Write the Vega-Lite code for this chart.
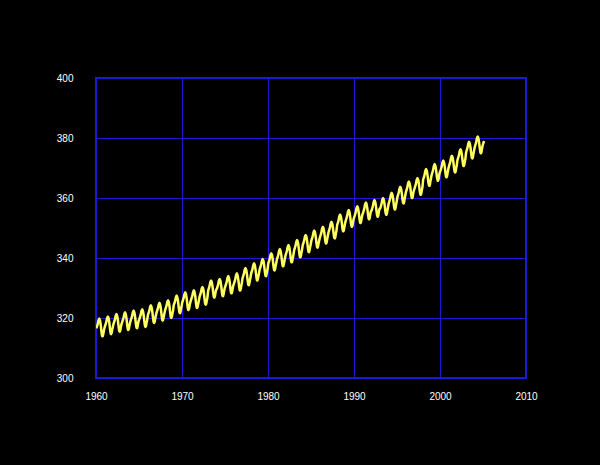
{
  "$schema": "https://vega.github.io/schema/vega-lite/v6.json",
  "width": 430,
  "height": 300,
  "autosize": "none",
  "padding": {"left": 96, "top": 78, "right": 74, "bottom": 87},
  "background": "#000000",
  "config": {
    "view": {"stroke": "#1a1ad8", "strokeWidth": 2},
    "axis": {
      "grid": true,
      "gridColor": "#1a1ad8",
      "gridWidth": 1,
      "gridOpacity": 1,
      "domain": false,
      "ticks": false,
      "labelColor": "#ffffff",
      "labelFont": "Liberation Sans",
      "labelFontSize": 10,
      "title": null
    }
  },
  "data": {"values": [
{"t":1960.042,"v":316.54},{"t":1960.125,"v":317.26},{"t":1960.208,"v":318.08},{"t":1960.292,"v":319.24},{"t":1960.375,"v":319.81},{"t":1960.458,"v":319.23},{"t":1960.542,"v":317.79},{"t":1960.625,"v":315.76},{"t":1960.708,"v":314.03},{"t":1960.792,"v":313.89},{"t":1960.875,"v":315.16},{"t":1960.958,"v":316.33},
{"t":1961.042,"v":317.27},{"t":1961.125,"v":317.99},{"t":1961.208,"v":318.81},{"t":1961.292,"v":319.97},{"t":1961.375,"v":320.54},{"t":1961.458,"v":319.96},{"t":1961.542,"v":318.52},{"t":1961.625,"v":316.49},{"t":1961.708,"v":314.76},{"t":1961.792,"v":314.62},{"t":1961.875,"v":315.89},{"t":1961.958,"v":317.06},
{"t":1962.042,"v":318.08},{"t":1962.125,"v":318.80},{"t":1962.208,"v":319.62},{"t":1962.292,"v":320.78},{"t":1962.375,"v":321.35},{"t":1962.458,"v":320.77},{"t":1962.542,"v":319.33},{"t":1962.625,"v":317.30},{"t":1962.708,"v":315.57},{"t":1962.792,"v":315.43},{"t":1962.875,"v":316.70},{"t":1962.958,"v":317.87},
{"t":1963.042,"v":318.62},{"t":1963.125,"v":319.34},{"t":1963.208,"v":320.16},{"t":1963.292,"v":321.32},{"t":1963.375,"v":321.89},{"t":1963.458,"v":321.31},{"t":1963.542,"v":319.87},{"t":1963.625,"v":317.84},{"t":1963.708,"v":316.11},{"t":1963.792,"v":315.97},{"t":1963.875,"v":317.24},{"t":1963.958,"v":318.41},
{"t":1964.042,"v":319.25},{"t":1964.125,"v":319.97},{"t":1964.208,"v":320.79},{"t":1964.292,"v":321.95},{"t":1964.375,"v":322.52},{"t":1964.458,"v":321.94},{"t":1964.542,"v":320.50},{"t":1964.625,"v":318.47},{"t":1964.708,"v":316.74},{"t":1964.792,"v":316.60},{"t":1964.875,"v":317.87},{"t":1964.958,"v":319.04},
{"t":1965.042,"v":319.67},{"t":1965.125,"v":320.39},{"t":1965.208,"v":321.21},{"t":1965.292,"v":322.37},{"t":1965.375,"v":322.94},{"t":1965.458,"v":322.36},{"t":1965.542,"v":320.92},{"t":1965.625,"v":318.89},{"t":1965.708,"v":317.16},{"t":1965.792,"v":317.02},{"t":1965.875,"v":318.29},{"t":1965.958,"v":319.46},
{"t":1966.042,"v":321.00},{"t":1966.125,"v":321.72},{"t":1966.208,"v":322.54},{"t":1966.292,"v":323.70},{"t":1966.375,"v":324.27},{"t":1966.458,"v":323.69},{"t":1966.542,"v":322.25},{"t":1966.625,"v":320.22},{"t":1966.708,"v":318.49},{"t":1966.792,"v":318.35},{"t":1966.875,"v":319.62},{"t":1966.958,"v":320.79},
{"t":1967.042,"v":321.81},{"t":1967.125,"v":322.53},{"t":1967.208,"v":323.35},{"t":1967.292,"v":324.51},{"t":1967.375,"v":325.08},{"t":1967.458,"v":324.50},{"t":1967.542,"v":323.06},{"t":1967.625,"v":321.03},{"t":1967.708,"v":319.30},{"t":1967.792,"v":319.16},{"t":1967.875,"v":320.43},{"t":1967.958,"v":321.60},
{"t":1968.042,"v":322.68},{"t":1968.125,"v":323.40},{"t":1968.208,"v":324.22},{"t":1968.292,"v":325.38},{"t":1968.375,"v":325.95},{"t":1968.458,"v":325.37},{"t":1968.542,"v":323.93},{"t":1968.625,"v":321.90},{"t":1968.708,"v":320.17},{"t":1968.792,"v":320.03},{"t":1968.875,"v":321.30},{"t":1968.958,"v":322.47},
{"t":1969.042,"v":324.25},{"t":1969.125,"v":324.97},{"t":1969.208,"v":325.79},{"t":1969.292,"v":326.95},{"t":1969.375,"v":327.52},{"t":1969.458,"v":326.94},{"t":1969.542,"v":325.50},{"t":1969.625,"v":323.47},{"t":1969.708,"v":321.74},{"t":1969.792,"v":321.60},{"t":1969.875,"v":322.87},{"t":1969.958,"v":324.04},
{"t":1970.042,"v":325.31},{"t":1970.125,"v":326.03},{"t":1970.208,"v":326.85},{"t":1970.292,"v":328.01},{"t":1970.375,"v":328.58},{"t":1970.458,"v":328.00},{"t":1970.542,"v":326.56},{"t":1970.625,"v":324.53},{"t":1970.708,"v":322.80},{"t":1970.792,"v":322.66},{"t":1970.875,"v":323.93},{"t":1970.958,"v":325.10},
{"t":1971.042,"v":325.95},{"t":1971.125,"v":326.67},{"t":1971.208,"v":327.49},{"t":1971.292,"v":328.65},{"t":1971.375,"v":329.22},{"t":1971.458,"v":328.64},{"t":1971.542,"v":327.20},{"t":1971.625,"v":325.17},{"t":1971.708,"v":323.44},{"t":1971.792,"v":323.30},{"t":1971.875,"v":324.57},{"t":1971.958,"v":325.74},
{"t":1972.042,"v":327.09},{"t":1972.125,"v":327.81},{"t":1972.208,"v":328.63},{"t":1972.292,"v":329.79},{"t":1972.375,"v":330.36},{"t":1972.458,"v":329.78},{"t":1972.542,"v":328.34},{"t":1972.625,"v":326.31},{"t":1972.708,"v":324.58},{"t":1972.792,"v":324.44},{"t":1972.875,"v":325.71},{"t":1972.958,"v":326.88},
{"t":1973.042,"v":329.13},{"t":1973.125,"v":329.88},{"t":1973.208,"v":330.73},{"t":1973.292,"v":331.93},{"t":1973.375,"v":332.53},{"t":1973.458,"v":331.98},{"t":1973.542,"v":330.58},{"t":1973.625,"v":328.58},{"t":1973.708,"v":326.88},{"t":1973.792,"v":326.78},{"t":1973.875,"v":328.08},{"t":1973.958,"v":329.28},
{"t":1974.042,"v":329.64},{"t":1974.125,"v":330.39},{"t":1974.208,"v":331.24},{"t":1974.292,"v":332.44},{"t":1974.375,"v":333.04},{"t":1974.458,"v":332.49},{"t":1974.542,"v":331.09},{"t":1974.625,"v":329.09},{"t":1974.708,"v":327.39},{"t":1974.792,"v":327.29},{"t":1974.875,"v":328.59},{"t":1974.958,"v":329.79},
{"t":1975.042,"v":330.58},{"t":1975.125,"v":331.33},{"t":1975.208,"v":332.18},{"t":1975.292,"v":333.38},{"t":1975.375,"v":333.98},{"t":1975.458,"v":333.43},{"t":1975.542,"v":332.03},{"t":1975.625,"v":330.03},{"t":1975.708,"v":328.33},{"t":1975.792,"v":328.23},{"t":1975.875,"v":329.53},{"t":1975.958,"v":330.73},
{"t":1976.042,"v":331.48},{"t":1976.125,"v":332.23},{"t":1976.208,"v":333.08},{"t":1976.292,"v":334.28},{"t":1976.375,"v":334.88},{"t":1976.458,"v":334.33},{"t":1976.542,"v":332.93},{"t":1976.625,"v":330.93},{"t":1976.708,"v":329.23},{"t":1976.792,"v":329.13},{"t":1976.875,"v":330.43},{"t":1976.958,"v":331.63},
{"t":1977.042,"v":333.29},{"t":1977.125,"v":334.04},{"t":1977.208,"v":334.89},{"t":1977.292,"v":336.09},{"t":1977.375,"v":336.69},{"t":1977.458,"v":336.14},{"t":1977.542,"v":334.74},{"t":1977.625,"v":332.74},{"t":1977.708,"v":331.04},{"t":1977.792,"v":330.94},{"t":1977.875,"v":332.24},{"t":1977.958,"v":333.44},
{"t":1978.042,"v":334.86},{"t":1978.125,"v":335.61},{"t":1978.208,"v":336.46},{"t":1978.292,"v":337.66},{"t":1978.375,"v":338.26},{"t":1978.458,"v":337.71},{"t":1978.542,"v":336.31},{"t":1978.625,"v":334.31},{"t":1978.708,"v":332.61},{"t":1978.792,"v":332.51},{"t":1978.875,"v":333.81},{"t":1978.958,"v":335.01},
{"t":1979.042,"v":336.29},{"t":1979.125,"v":337.04},{"t":1979.208,"v":337.89},{"t":1979.292,"v":339.09},{"t":1979.375,"v":339.69},{"t":1979.458,"v":339.14},{"t":1979.542,"v":337.74},{"t":1979.625,"v":335.74},{"t":1979.708,"v":334.04},{"t":1979.792,"v":333.94},{"t":1979.875,"v":335.24},{"t":1979.958,"v":336.44},
{"t":1980.042,"v":338.21},{"t":1980.125,"v":338.96},{"t":1980.208,"v":339.81},{"t":1980.292,"v":341.01},{"t":1980.375,"v":341.61},{"t":1980.458,"v":341.06},{"t":1980.542,"v":339.66},{"t":1980.625,"v":337.66},{"t":1980.708,"v":335.96},{"t":1980.792,"v":335.86},{"t":1980.875,"v":337.16},{"t":1980.958,"v":338.36},
{"t":1981.042,"v":339.57},{"t":1981.125,"v":340.32},{"t":1981.208,"v":341.17},{"t":1981.292,"v":342.37},{"t":1981.375,"v":342.97},{"t":1981.458,"v":342.42},{"t":1981.542,"v":341.02},{"t":1981.625,"v":339.02},{"t":1981.708,"v":337.32},{"t":1981.792,"v":337.22},{"t":1981.875,"v":338.52},{"t":1981.958,"v":339.72},
{"t":1982.042,"v":340.93},{"t":1982.125,"v":341.68},{"t":1982.208,"v":342.53},{"t":1982.292,"v":343.73},{"t":1982.375,"v":344.33},{"t":1982.458,"v":343.78},{"t":1982.542,"v":342.38},{"t":1982.625,"v":340.38},{"t":1982.708,"v":338.68},{"t":1982.792,"v":338.58},{"t":1982.875,"v":339.88},{"t":1982.958,"v":341.08},
{"t":1983.042,"v":342.60},{"t":1983.125,"v":343.35},{"t":1983.208,"v":344.20},{"t":1983.292,"v":345.40},{"t":1983.375,"v":346.00},{"t":1983.458,"v":345.45},{"t":1983.542,"v":344.05},{"t":1983.625,"v":342.05},{"t":1983.708,"v":340.35},{"t":1983.792,"v":340.25},{"t":1983.875,"v":341.55},{"t":1983.958,"v":342.75},
{"t":1984.042,"v":344.30},{"t":1984.125,"v":345.05},{"t":1984.208,"v":345.90},{"t":1984.292,"v":347.10},{"t":1984.375,"v":347.70},{"t":1984.458,"v":347.15},{"t":1984.542,"v":345.75},{"t":1984.625,"v":343.75},{"t":1984.708,"v":342.05},{"t":1984.792,"v":341.95},{"t":1984.875,"v":343.25},{"t":1984.958,"v":344.45},
{"t":1985.042,"v":345.80},{"t":1985.125,"v":346.55},{"t":1985.208,"v":347.40},{"t":1985.292,"v":348.60},{"t":1985.375,"v":349.20},{"t":1985.458,"v":348.65},{"t":1985.542,"v":347.25},{"t":1985.625,"v":345.25},{"t":1985.708,"v":343.55},{"t":1985.792,"v":343.45},{"t":1985.875,"v":344.75},{"t":1985.958,"v":345.95},
{"t":1986.042,"v":346.88},{"t":1986.125,"v":347.66},{"t":1986.208,"v":348.54},{"t":1986.292,"v":349.78},{"t":1986.375,"v":350.41},{"t":1986.458,"v":349.89},{"t":1986.542,"v":348.53},{"t":1986.625,"v":346.56},{"t":1986.708,"v":344.89},{"t":1986.792,"v":344.83},{"t":1986.875,"v":346.16},{"t":1986.958,"v":347.39},
{"t":1987.042,"v":348.58},{"t":1987.125,"v":349.36},{"t":1987.208,"v":350.24},{"t":1987.292,"v":351.48},{"t":1987.375,"v":352.11},{"t":1987.458,"v":351.59},{"t":1987.542,"v":350.23},{"t":1987.625,"v":348.26},{"t":1987.708,"v":346.59},{"t":1987.792,"v":346.53},{"t":1987.875,"v":347.86},{"t":1987.958,"v":349.09},
{"t":1988.042,"v":350.96},{"t":1988.125,"v":351.74},{"t":1988.208,"v":352.62},{"t":1988.292,"v":353.86},{"t":1988.375,"v":354.49},{"t":1988.458,"v":353.97},{"t":1988.542,"v":352.61},{"t":1988.625,"v":350.64},{"t":1988.708,"v":348.97},{"t":1988.792,"v":348.91},{"t":1988.875,"v":350.24},{"t":1988.958,"v":351.47},
{"t":1989.042,"v":352.47},{"t":1989.125,"v":353.25},{"t":1989.208,"v":354.13},{"t":1989.292,"v":355.37},{"t":1989.375,"v":356.00},{"t":1989.458,"v":355.48},{"t":1989.542,"v":354.12},{"t":1989.625,"v":352.15},{"t":1989.708,"v":350.48},{"t":1989.792,"v":350.42},{"t":1989.875,"v":351.75},{"t":1989.958,"v":352.98},
{"t":1990.042,"v":353.72},{"t":1990.125,"v":354.50},{"t":1990.208,"v":355.38},{"t":1990.292,"v":356.62},{"t":1990.375,"v":357.25},{"t":1990.458,"v":356.73},{"t":1990.542,"v":355.37},{"t":1990.625,"v":353.40},{"t":1990.708,"v":351.73},{"t":1990.792,"v":351.67},{"t":1990.875,"v":353.00},{"t":1990.958,"v":354.23},
{"t":1991.042,"v":354.97},{"t":1991.125,"v":355.75},{"t":1991.208,"v":356.63},{"t":1991.292,"v":357.87},{"t":1991.375,"v":358.50},{"t":1991.458,"v":357.98},{"t":1991.542,"v":356.62},{"t":1991.625,"v":354.65},{"t":1991.708,"v":352.98},{"t":1991.792,"v":352.92},{"t":1991.875,"v":354.25},{"t":1991.958,"v":355.48},
{"t":1992.042,"v":355.81},{"t":1992.125,"v":356.59},{"t":1992.208,"v":357.47},{"t":1992.292,"v":358.71},{"t":1992.375,"v":359.34},{"t":1992.458,"v":358.82},{"t":1992.542,"v":357.46},{"t":1992.625,"v":355.49},{"t":1992.708,"v":353.82},{"t":1992.792,"v":353.76},{"t":1992.875,"v":355.09},{"t":1992.958,"v":356.32},
{"t":1993.042,"v":356.48},{"t":1993.125,"v":357.26},{"t":1993.208,"v":358.14},{"t":1993.292,"v":359.38},{"t":1993.375,"v":360.01},{"t":1993.458,"v":359.49},{"t":1993.542,"v":358.13},{"t":1993.625,"v":356.16},{"t":1993.708,"v":354.49},{"t":1993.792,"v":354.43},{"t":1993.875,"v":355.76},{"t":1993.958,"v":356.99},
{"t":1994.042,"v":358.23},{"t":1994.125,"v":359.01},{"t":1994.208,"v":359.89},{"t":1994.292,"v":361.13},{"t":1994.375,"v":361.76},{"t":1994.458,"v":361.24},{"t":1994.542,"v":359.88},{"t":1994.625,"v":357.91},{"t":1994.708,"v":356.24},{"t":1994.792,"v":356.18},{"t":1994.875,"v":357.51},{"t":1994.958,"v":358.74},
{"t":1995.042,"v":360.24},{"t":1995.125,"v":361.02},{"t":1995.208,"v":361.90},{"t":1995.292,"v":363.14},{"t":1995.375,"v":363.77},{"t":1995.458,"v":363.25},{"t":1995.542,"v":361.89},{"t":1995.625,"v":359.92},{"t":1995.708,"v":358.25},{"t":1995.792,"v":358.19},{"t":1995.875,"v":359.52},{"t":1995.958,"v":360.75},
{"t":1996.042,"v":362.01},{"t":1996.125,"v":362.79},{"t":1996.208,"v":363.67},{"t":1996.292,"v":364.91},{"t":1996.375,"v":365.54},{"t":1996.458,"v":365.02},{"t":1996.542,"v":363.66},{"t":1996.625,"v":361.69},{"t":1996.708,"v":360.02},{"t":1996.792,"v":359.96},{"t":1996.875,"v":361.29},{"t":1996.958,"v":362.52},
{"t":1997.042,"v":363.15},{"t":1997.125,"v":363.93},{"t":1997.208,"v":364.81},{"t":1997.292,"v":366.05},{"t":1997.375,"v":366.68},{"t":1997.458,"v":366.16},{"t":1997.542,"v":364.80},{"t":1997.625,"v":362.83},{"t":1997.708,"v":361.16},{"t":1997.792,"v":361.10},{"t":1997.875,"v":362.43},{"t":1997.958,"v":363.66},
{"t":1998.042,"v":366.11},{"t":1998.125,"v":366.89},{"t":1998.208,"v":367.77},{"t":1998.292,"v":369.01},{"t":1998.375,"v":369.64},{"t":1998.458,"v":369.12},{"t":1998.542,"v":367.76},{"t":1998.625,"v":365.79},{"t":1998.708,"v":364.12},{"t":1998.792,"v":364.06},{"t":1998.875,"v":365.39},{"t":1998.958,"v":366.62},
{"t":1999.042,"v":367.81},{"t":1999.125,"v":368.59},{"t":1999.208,"v":369.47},{"t":1999.292,"v":370.71},{"t":1999.375,"v":371.34},{"t":1999.458,"v":370.82},{"t":1999.542,"v":369.46},{"t":1999.625,"v":367.49},{"t":1999.708,"v":365.82},{"t":1999.792,"v":365.76},{"t":1999.875,"v":367.09},{"t":1999.958,"v":368.32},
{"t":2000.042,"v":368.98},{"t":2000.125,"v":369.76},{"t":2000.208,"v":370.64},{"t":2000.292,"v":371.88},{"t":2000.375,"v":372.51},{"t":2000.458,"v":371.99},{"t":2000.542,"v":370.63},{"t":2000.625,"v":368.66},{"t":2000.708,"v":366.99},{"t":2000.792,"v":366.93},{"t":2000.875,"v":368.26},{"t":2000.958,"v":369.49},
{"t":2001.042,"v":370.59},{"t":2001.125,"v":371.37},{"t":2001.208,"v":372.25},{"t":2001.292,"v":373.49},{"t":2001.375,"v":374.12},{"t":2001.458,"v":373.60},{"t":2001.542,"v":372.24},{"t":2001.625,"v":370.27},{"t":2001.708,"v":368.60},{"t":2001.792,"v":368.54},{"t":2001.875,"v":369.87},{"t":2001.958,"v":371.10},
{"t":2002.042,"v":372.72},{"t":2002.125,"v":373.50},{"t":2002.208,"v":374.38},{"t":2002.292,"v":375.62},{"t":2002.375,"v":376.25},{"t":2002.458,"v":375.73},{"t":2002.542,"v":374.37},{"t":2002.625,"v":372.40},{"t":2002.708,"v":370.73},{"t":2002.792,"v":370.67},{"t":2002.875,"v":372.00},{"t":2002.958,"v":373.23},
{"t":2003.042,"v":375.25},{"t":2003.125,"v":376.03},{"t":2003.208,"v":376.91},{"t":2003.292,"v":378.15},{"t":2003.375,"v":378.78},{"t":2003.458,"v":378.26},{"t":2003.542,"v":376.90},{"t":2003.625,"v":374.93},{"t":2003.708,"v":373.26},{"t":2003.792,"v":373.20},{"t":2003.875,"v":374.53},{"t":2003.958,"v":375.76},
{"t":2004.042,"v":376.97},{"t":2004.125,"v":377.75},{"t":2004.208,"v":378.63},{"t":2004.292,"v":379.87},{"t":2004.375,"v":380.50},{"t":2004.458,"v":379.98},{"t":2004.542,"v":378.62},{"t":2004.625,"v":376.65},{"t":2004.708,"v":374.98},{"t":2004.792,"v":374.92},{"t":2004.875,"v":376.25},{"t":2004.958,"v":377.48},
{"t":2005.042,"v":378.30},{"t":2005.125,"v":379.00}
  ]},
  "mark": {"type": "line", "color": "#ffff60", "strokeWidth": 2.5, "interpolate": "monotone", "clip": true},
  "encoding": {
    "x": {
      "field": "t", "type": "quantitative",
      "scale": {"domain": [1960, 2010], "nice": false, "zero": false},
      "axis": {"values": [1960, 1970, 1980, 1990, 2000, 2010], "format": "d", "labelPadding": 13, "labelFlush": false}
    },
    "y": {
      "field": "v", "type": "quantitative",
      "scale": {"domain": [300, 400], "nice": false, "zero": false},
      "axis": {"values": [300, 320, 340, 360, 380, 400], "format": "d", "labelPadding": 23}
    }
  }
}
